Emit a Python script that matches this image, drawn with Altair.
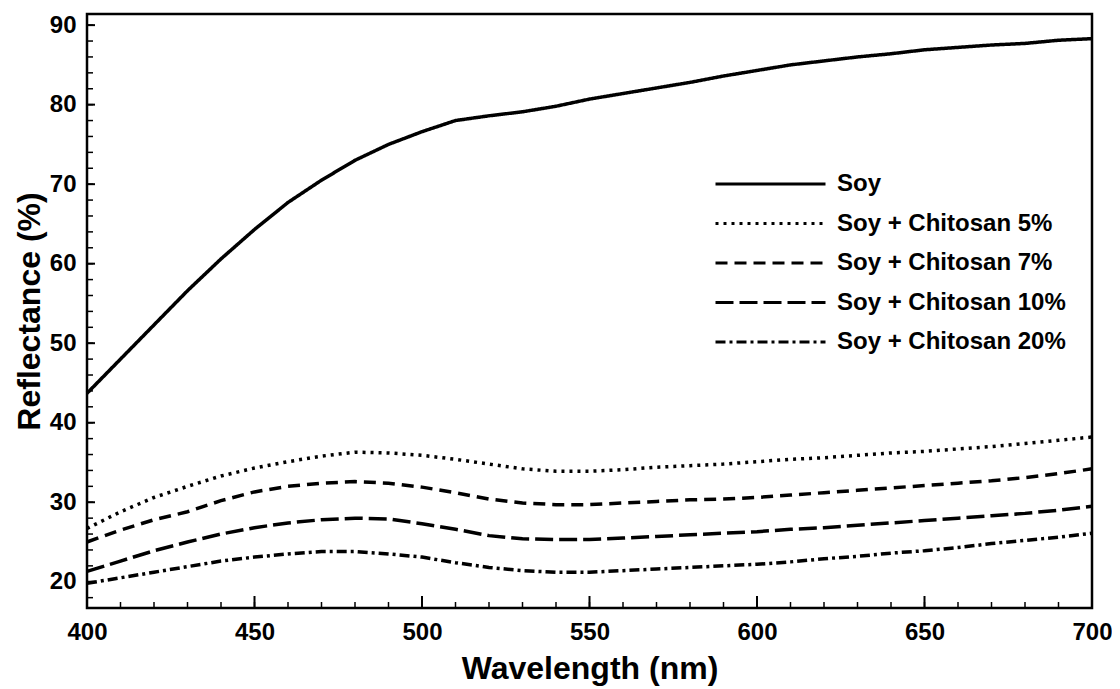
import altair as alt
import pandas as pd

wavelength = [400, 410, 420, 430, 440, 450, 460, 470, 480, 490, 500,
              510, 520, 530, 540, 550, 560, 570, 580, 590, 600,
              610, 620, 630, 640, 650, 660, 670, 680, 690, 700]

soy = [43.7, 48.0, 52.3, 56.6, 60.6, 64.3, 67.7, 70.5, 73.0, 75.0, 76.6,
       78.0, 78.6, 79.1, 79.8, 80.7, 81.4, 82.1, 82.8, 83.6, 84.3,
       85.0, 85.5, 86.0, 86.4, 86.9, 87.2, 87.5, 87.7, 88.1, 88.3]
chit5 = [26.7, 28.8, 30.6, 32.0, 33.3, 34.3, 35.1, 35.8, 36.3, 36.2, 35.9,
         35.4, 34.8, 34.2, 33.9, 33.9, 34.1, 34.4, 34.6, 34.8, 35.1,
         35.4, 35.6, 35.9, 36.2, 36.4, 36.7, 37.0, 37.4, 37.8, 38.2]
chit7 = [25.0, 26.5, 27.8, 28.8, 30.2, 31.3, 32.0, 32.4, 32.6, 32.4, 31.9,
         31.2, 30.4, 29.9, 29.7, 29.7, 29.9, 30.1, 30.3, 30.4, 30.6,
         30.9, 31.2, 31.5, 31.8, 32.1, 32.4, 32.7, 33.1, 33.6, 34.2]
chit10 = [21.3, 22.6, 23.9, 25.0, 26.0, 26.8, 27.4, 27.8, 28.0, 27.9, 27.3,
          26.6, 25.8, 25.4, 25.3, 25.3, 25.5, 25.7, 25.9, 26.1, 26.3,
          26.6, 26.8, 27.1, 27.4, 27.7, 28.0, 28.3, 28.6, 29.0, 29.5]
chit20 = [19.8, 20.5, 21.2, 21.9, 22.6, 23.1, 23.5, 23.8, 23.8, 23.5, 23.1,
          22.4, 21.8, 21.4, 21.2, 21.2, 21.4, 21.6, 21.8, 22.0, 22.2,
          22.5, 22.9, 23.2, 23.6, 23.9, 24.3, 24.8, 25.2, 25.6, 26.1]

series_names = ["Soy", "Soy + Chitosan 5%", "Soy + Chitosan 7%",
                "Soy + Chitosan 10%", "Soy + Chitosan 20%"]
series_values = [soy, chit5, chit7, chit10, chit20]
dash_styles = [[1, 0], [3, 5], [12, 7], [18, 6], [10, 4, 3, 4]]

x_major = [400, 450, 500, 550, 600, 650, 700]
x_minor = list(range(400, 701, 10))
y_major = [20, 30, 40, 50, 60, 70, 80, 90]
y_minor = list(range(18, 91, 2))

rows = []
for name, vals in zip(series_names, series_values):
    for w, v in zip(wavelength, vals):
        rows.append({"series": name, "wavelength": w, "reflectance": v})
df = pd.DataFrame(rows)

FONT = "Liberation Sans"

xscale = alt.Scale(domain=[400, 700], nice=False, zero=False)
yscale = alt.Scale(domain=[16.7, 91.4], nice=False, zero=False)

lines = alt.Chart(df).mark_line(color="black", strokeWidth=3.5).encode(
    x=alt.X("wavelength:Q", scale=xscale,
            axis=alt.Axis(values=x_major, format="d", title="Wavelength (nm)",
                          ticks=False, domain=False, grid=False, labelFlush=False,
                          labelPadding=12, titlePadding=9)),
    y=alt.Y("reflectance:Q", scale=yscale,
            axis=alt.Axis(values=y_major, format="d", title="Reflectance (%)",
                          ticks=False, domain=False, grid=False,
                          labelPadding=11, titlePadding=3)),
    strokeDash=alt.StrokeDash(
        "series:N",
        scale=alt.Scale(domain=series_names, range=dash_styles),
        sort=series_names,
        legend=alt.Legend(
            title=None, orient="none", legendX=627, legendY=156,
            symbolType="stroke", symbolSize=12100, symbolStrokeWidth=3,
            symbolStrokeColor="black", symbolOffset=0, padding=0,
            labelFontSize=24, labelFontWeight="bold", labelColor="black",
            labelFont=FONT, labelOffset=10, rowPadding=11.5, labelLimit=400,
            clipHeight=28,
        ),
    ),
    detail="series:N",
    order="wavelength:Q",
)

xmaj = alt.Chart(pd.DataFrame({"v": x_major})).mark_rule(color="black", strokeWidth=2).encode(
    x=alt.X("v:Q", scale=xscale), y=alt.value(594), y2=alt.value(582))
xmin = alt.Chart(pd.DataFrame({"v": x_minor})).mark_rule(color="black", strokeWidth=1.5).encode(
    x=alt.X("v:Q", scale=xscale), y=alt.value(594), y2=alt.value(588))
ymaj = alt.Chart(pd.DataFrame({"v": y_major})).mark_rule(color="black", strokeWidth=2).encode(
    y=alt.Y("v:Q", scale=yscale), x=alt.value(0), x2=alt.value(8))
ymin = alt.Chart(pd.DataFrame({"v": y_minor})).mark_rule(color="black", strokeWidth=1.5).encode(
    y=alt.Y("v:Q", scale=yscale), x=alt.value(0), x2=alt.value(6))

chart = alt.layer(xmin, xmaj, ymin, ymaj, lines).properties(
    width=1005, height=594,
    padding={"left": 79, "top": 6, "right": 20, "bottom": 82},
    autosize=alt.AutoSizeParams(type="none"),
).configure(
    font=FONT,
    background="white",
).configure_view(
    stroke="black", strokeWidth=2.5,
).configure_axis(
    labelFont=FONT, labelFontSize=24, labelFontWeight="bold", labelColor="black",
    titleFont=FONT, titleFontSize=32, titleFontWeight="bold", titleColor="black",
)

chart.save("out.html", embed_options={"renderer": "svg", "actions": False})
